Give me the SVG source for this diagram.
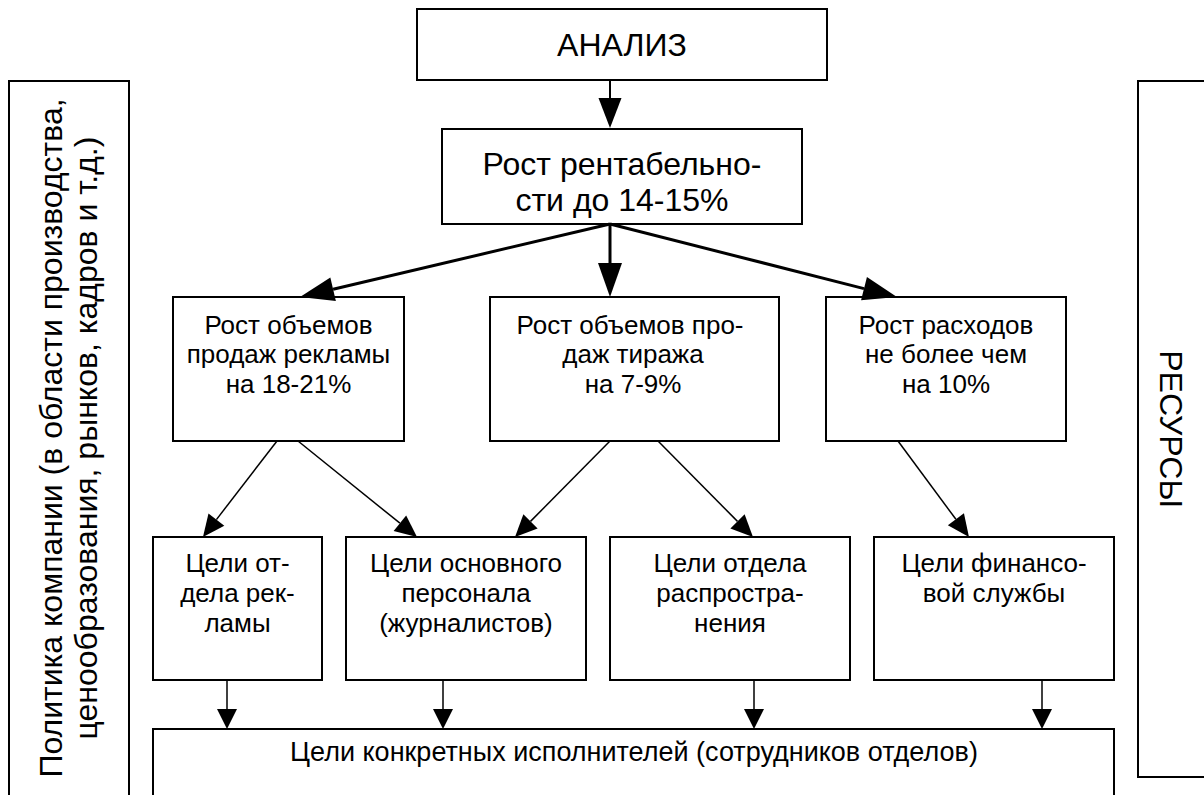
<svg xmlns="http://www.w3.org/2000/svg" width="1204" height="795" viewBox="0 0 1204 795">
<style>
.box{fill:#fff;stroke:#000;stroke-width:2}
.t{font-family:"Liberation Sans",Arial,sans-serif;fill:#000;text-anchor:middle}
.big{font-size:32px}
.mid{font-size:26px}
.low{font-size:27px}
.thick{stroke:#000;stroke-width:3;fill:none}
.med{stroke:#000;stroke-width:2;fill:none}
.thin{stroke:#000;stroke-width:1.5;fill:none}
</style>
<defs>
<marker id="hBig" markerUnits="userSpaceOnUse" markerWidth="34" markerHeight="24" refX="0" refY="12" orient="auto" overflow="visible"><path d="M0,0 L34,12 L0,24 Z" fill="#000"/></marker>
<marker id="hMed" markerUnits="userSpaceOnUse" markerWidth="30" markerHeight="23" refX="0" refY="11.5" orient="auto" overflow="visible"><path d="M0,0 L30,11.5 L0,23 Z" fill="#000"/></marker>
<marker id="hSm" markerUnits="userSpaceOnUse" markerWidth="22" markerHeight="20" refX="0" refY="10" orient="auto" overflow="visible"><path d="M0,0 L22,10 L0,20 Z" fill="#000"/></marker>
<marker id="hDn" markerUnits="userSpaceOnUse" markerWidth="20" markerHeight="20" refX="0" refY="10" orient="auto" overflow="visible"><path d="M0,0 L20,10 L0,20 Z" fill="#000"/></marker>
</defs>

<g id="policy">
<rect class="box" x="9" y="81" width="120" height="730"/>
<text class="t big" transform="translate(62,438) rotate(-90)">Политика компании (в области производства,</text>
<text class="t big" transform="translate(97,438) rotate(-90)">ценообразования, рынков, кадров и т.д.)</text>
</g>

<g id="resources">
<rect class="box" x="1138" y="81" width="80" height="696"/>
<text class="t big" transform="translate(1160,429) rotate(90)">РЕСУРСЫ</text>
</g>

<g id="analysis">
<rect class="box" x="417" y="9" width="410" height="71"/>
<text class="t big" x="622" y="56">АНАЛИЗ</text>
</g>

<g id="profit">
<rect class="box" x="442" y="129" width="360" height="95"/>
<text class="t big" x="622" y="175">Рост рентабельно-</text>
<text class="t big" x="622" y="211">сти до 14-15%</text>
</g>

<g id="ads-sales">
<rect class="box" x="173" y="297" width="231" height="144"/>
<text class="t mid" x="288.5" y="334">Рост объемов</text>
<text class="t mid" x="288.5" y="363">продаж рекламы</text>
<text class="t mid" x="288.5" y="393">на 18-21%</text>
</g>

<g id="circulation-sales">
<rect class="box" x="490" y="297" width="289" height="144"/>
<text class="t mid" x="630" y="334">Рост объемов про-</text>
<text class="t mid" x="633" y="363">даж тиража</text>
<text class="t mid" x="633" y="393">на 7-9%</text>
</g>

<g id="costs">
<rect class="box" x="826" y="297" width="240" height="144"/>
<text class="t mid" x="946" y="334">Рост расходов</text>
<text class="t mid" x="946" y="363">не более чем</text>
<text class="t mid" x="946" y="393">на 10%</text>
</g>

<g id="ad-dept">
<rect class="box" x="153" y="537" width="169" height="143"/>
<text class="t mid" x="237.5" y="572">Цели от-</text>
<text class="t mid" x="237.5" y="602">дела рек-</text>
<text class="t mid" x="237.5" y="632">ламы</text>
</g>

<g id="journalists">
<rect class="box" x="346" y="537" width="240" height="143"/>
<text class="t mid" x="466" y="572">Цели основного</text>
<text class="t mid" x="466" y="602">персонала</text>
<text class="t mid" x="466" y="632">(журналистов)</text>
</g>

<g id="distribution">
<rect class="box" x="610" y="537" width="240" height="143"/>
<text class="t mid" x="730" y="572">Цели отдела</text>
<text class="t mid" x="730" y="602">распростра-</text>
<text class="t mid" x="730" y="632">нения</text>
</g>

<g id="finance">
<rect class="box" x="874" y="537" width="240" height="143"/>
<text class="t mid" x="994" y="572">Цели финансо-</text>
<text class="t mid" x="994" y="602">вой службы</text>
</g>

<g id="executors">
<rect class="box" x="153" y="729" width="961" height="90"/>
<text class="t low" x="634" y="761">Цели конкретных исполнителей (сотрудников отделов)</text>
</g>

<g id="connectors">
<line class="med" x1="610" y1="80" x2="610" y2="98" marker-end="url(#hMed)"/>
<line class="thick" x1="610" y1="224" x2="333.1" y2="289.2" marker-end="url(#hBig)"/>
<line class="thick" x1="610" y1="224" x2="610" y2="263" marker-end="url(#hBig)"/>
<line class="thick" x1="610" y1="224" x2="864" y2="288.6" marker-end="url(#hBig)"/>
<line class="thin" x1="277" y1="441" x2="216.4" y2="519.6" marker-end="url(#hSm)"/>
<line class="thin" x1="298" y1="441" x2="399.9" y2="523.2" marker-end="url(#hSm)"/>
<line class="thin" x1="610" y1="441" x2="530.5" y2="521.4" marker-end="url(#hSm)"/>
<line class="thin" x1="658" y1="441" x2="737.5" y2="521.4" marker-end="url(#hSm)"/>
<line class="thin" x1="898" y1="441" x2="955.9" y2="519.3" marker-end="url(#hSm)"/>
<line class="thin" x1="227" y1="680" x2="227" y2="709" marker-end="url(#hDn)"/>
<line class="thin" x1="443" y1="680" x2="443" y2="709" marker-end="url(#hDn)"/>
<line class="thin" x1="754" y1="680" x2="754" y2="709" marker-end="url(#hDn)"/>
<line class="thin" x1="1042" y1="680" x2="1042" y2="709" marker-end="url(#hDn)"/>
</g>
</svg>
